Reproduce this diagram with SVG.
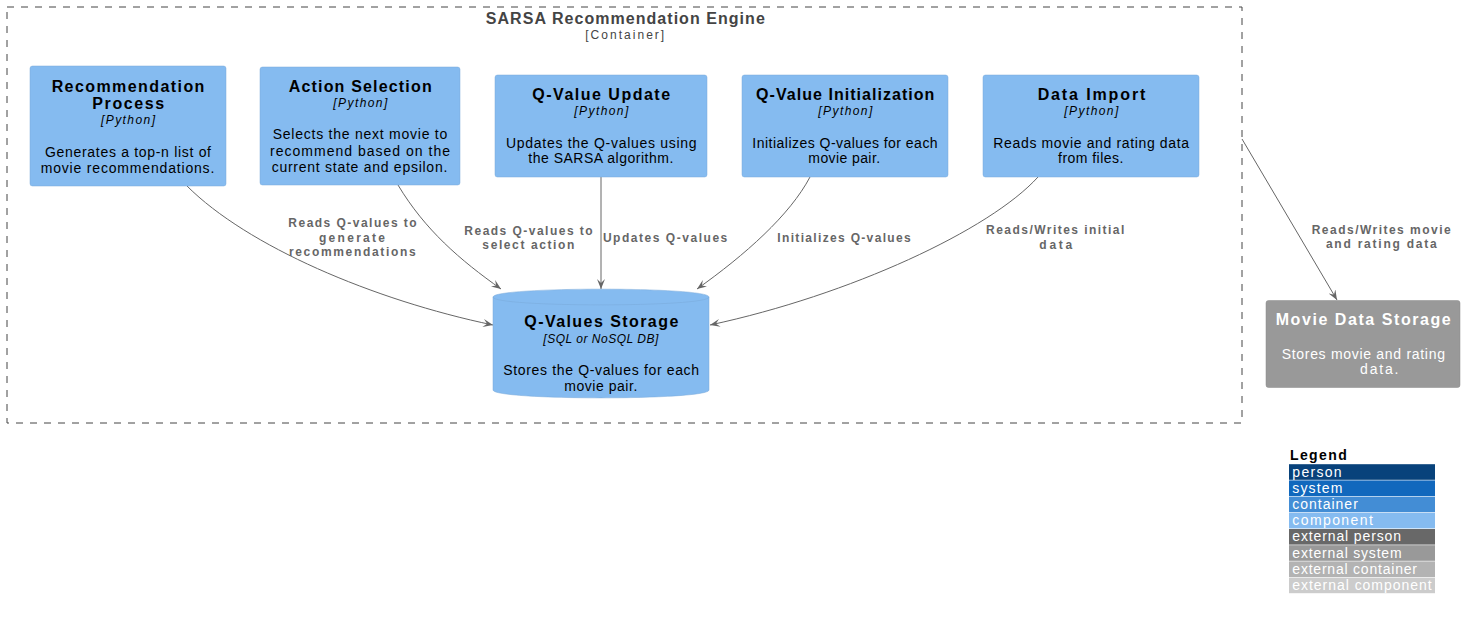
<svg xmlns="http://www.w3.org/2000/svg" width="1466" height="621" viewBox="0 0 1466 621">
<style>
text{font-family:"Liberation Sans",Arial,sans-serif}
.t{font-size:16px;font-weight:bold;fill:#000;text-anchor:middle}
.tw{font-size:16px;font-weight:bold;fill:#fff;text-anchor:middle}
.tech{font-size:12px;font-style:italic;fill:#000;text-anchor:middle}
.d{font-size:14px;fill:#000;text-anchor:middle}
.dw{font-size:14px;fill:#fff;text-anchor:middle}
.comp{fill:#85BBF0;stroke:#78A8D8;stroke-width:0.5}
.ext{fill:#999999;stroke:#8A8A8A;stroke-width:0.5}
.lbl{font-size:12px;font-weight:bold;fill:#666;text-anchor:middle}
.conn{fill:none;stroke:#666;stroke-width:1}
.bt{font-size:16px;font-weight:bold;fill:#444;text-anchor:middle}
.bs{font-size:12px;fill:#444;text-anchor:middle}
.lg{font-size:14px;fill:#fff}
</style>
<defs>
<marker id="arr" viewBox="0 0 10 8" refX="10" refY="4" markerWidth="10" markerHeight="8" markerUnits="userSpaceOnUse" orient="auto">
<path d="M0,0 L10,4 L0,8 L4,4 Z" fill="#666"/>
</marker>
</defs>

<g id="boundary">
<rect x="7" y="7" width="1235" height="416" fill="none" stroke="#444" stroke-width="1" stroke-dasharray="7,7"/>
<text class="bt" x="625.3" y="24" textLength="279" lengthAdjust="spacing">SARSA Recommendation Engine</text>
<text class="bs" x="624.7" y="39" textLength="79" lengthAdjust="spacing">[Container]</text>
</g>

<g id="connectors">
<path class="conn" marker-end="url(#arr)" d="M187,186 C247,246 373,300 493,325"/>
<path class="conn" marker-end="url(#arr)" d="M398,185 C425,230 460,260 501,289"/>
<path class="conn" marker-end="url(#arr)" d="M601,177 L601,289"/>
<path class="conn" marker-end="url(#arr)" d="M810,177 C790,215 745,255 697,289"/>
<path class="conn" marker-end="url(#arr)" d="M1038,177 C990,230 850,295 710,325"/>
<path class="conn" marker-end="url(#arr)" d="M1242,139 L1337,300"/>
<text class="lbl" x="352.5" y="227.3" textLength="128.3" lengthAdjust="spacing">Reads Q-values to</text>
<text class="lbl" x="352" y="241.5" textLength="66" lengthAdjust="spacing">generate</text>
<text class="lbl" x="352.3" y="255.7" textLength="126.7" lengthAdjust="spacing">recommendations</text>
<text class="lbl" x="528.5" y="234.5" textLength="128.3" lengthAdjust="spacing">Reads Q-values to</text>
<text class="lbl" x="528.3" y="248.7" textLength="91.9" lengthAdjust="spacing">select action</text>
<text class="lbl" x="665.1" y="241.7" textLength="124.4" lengthAdjust="spacing">Updates Q-values</text>
<text class="lbl" x="844" y="241.7" textLength="133.3" lengthAdjust="spacing">Initializes Q-values</text>
<text class="lbl" x="1055.2" y="234.4" textLength="138.2" lengthAdjust="spacing">Reads/Writes initial</text>
<text class="lbl" x="1055.8" y="248.6" textLength="33" lengthAdjust="spacing">data</text>
<text class="lbl" x="1381.2" y="234.2" textLength="139" lengthAdjust="spacing">Reads/Writes movie</text>
<text class="lbl" x="1381.3" y="248.4" textLength="110.8" lengthAdjust="spacing">and rating data</text>
</g>

<g id="recommendation-process">
<rect class="comp" x="30" y="66" width="196" height="120" rx="2.5"/>
<text class="t" x="128" y="91.7" textLength="152.7" lengthAdjust="spacing">Recommendation</text>
<text class="t" x="128.2" y="109.3" textLength="71.7" lengthAdjust="spacing">Process</text>
<text class="tech" x="128" y="124" textLength="54" lengthAdjust="spacing">[Python]</text>
<text class="d" x="128" y="157.3" textLength="166" lengthAdjust="spacing">Generates a top-n list of</text>
<text class="d" x="127.5" y="173.3" textLength="173.6" lengthAdjust="spacing">movie recommendations.</text>
</g>

<g id="action-selection">
<rect class="comp" x="260" y="67" width="200" height="118" rx="2.5"/>
<text class="t" x="360.2" y="92.3" textLength="143" lengthAdjust="spacing">Action Selection</text>
<text class="tech" x="360.3" y="107.3" textLength="54" lengthAdjust="spacing">[Python]</text>
<text class="d" x="360" y="139.3" textLength="174.6" lengthAdjust="spacing">Selects the next movie to</text>
<text class="d" x="360" y="155.7" textLength="180" lengthAdjust="spacing">recommend based on the</text>
<text class="d" x="359.5" y="171.7" textLength="175.6" lengthAdjust="spacing">current state and epsilon.</text>
</g>

<g id="q-value-update">
<rect class="comp" x="495" y="75" width="212" height="102" rx="2.5"/>
<text class="t" x="601.2" y="100" textLength="137.7" lengthAdjust="spacing">Q-Value Update</text>
<text class="tech" x="601.3" y="115.3" textLength="54" lengthAdjust="spacing">[Python]</text>
<text class="d" x="601.3" y="147.7" textLength="190.7" lengthAdjust="spacing">Updates the Q-values using</text>
<text class="d" x="600.8" y="163.3" textLength="145" lengthAdjust="spacing">the SARSA algorithm.</text>
</g>

<g id="q-value-initialization">
<rect class="comp" x="742" y="75" width="206" height="102" rx="2.5"/>
<text class="t" x="845.2" y="100" textLength="178.3" lengthAdjust="spacing">Q-Value Initialization</text>
<text class="tech" x="845.3" y="115.3" textLength="54" lengthAdjust="spacing">[Python]</text>
<text class="d" x="845" y="147.7" textLength="185.3" lengthAdjust="spacing">Initializes Q-values for each</text>
<text class="d" x="844.2" y="163.3" textLength="71.7" lengthAdjust="spacing">movie pair.</text>
</g>

<g id="data-import">
<rect class="comp" x="983" y="75" width="216" height="102" rx="2.5"/>
<text class="t" x="1091.5" y="100" textLength="107.7" lengthAdjust="spacing">Data Import</text>
<text class="tech" x="1091.3" y="115.3" textLength="54" lengthAdjust="spacing">[Python]</text>
<text class="d" x="1091.2" y="147.7" textLength="195.7" lengthAdjust="spacing">Reads movie and rating data</text>
<text class="d" x="1090.7" y="163.3" textLength="65.3" lengthAdjust="spacing">from files.</text>
</g>

<g id="q-values-storage">
<path class="comp" d="M493,297 C493,286.5 709,286.5 709,297 L709,390 C709,400.5 493,400.5 493,390 Z"/>
<path d="M493,297 C493,307.5 709,307.5 709,297" fill="none" stroke="#78A8D8" stroke-width="0.5"/>
<text class="t" x="601.3" y="327.3" textLength="154" lengthAdjust="spacing">Q-Values Storage</text>
<text class="tech" x="600.8" y="343.3" textLength="115" lengthAdjust="spacing">[SQL or NoSQL DB]</text>
<text class="d" x="601.2" y="375" textLength="195.7" lengthAdjust="spacing">Stores the Q-values for each</text>
<text class="d" x="600.8" y="390.7" textLength="73" lengthAdjust="spacing">movie pair.</text>
</g>

<g id="movie-data-storage">
<rect class="ext" x="1266" y="300.5" width="194" height="87" rx="2.5"/>
<text class="tw" x="1363.2" y="324.5" textLength="175" lengthAdjust="spacing">Movie Data Storage</text>
<text class="dw" x="1363.3" y="358.5" textLength="163.3" lengthAdjust="spacing">Stores movie and rating</text>
<text class="dw" x="1379.2" y="374.2" textLength="38.3" lengthAdjust="spacing" text-anchor="middle">data.</text>
</g>

<g id="legend">
<text x="1290" y="459.5" font-size="14" font-weight="bold" fill="#000" textLength="56.7" lengthAdjust="spacing">Legend</text>
<rect x="1289" y="464.2" width="146" height="15.6" fill="#08427B"/>
<rect x="1289" y="480.4" width="146" height="15.6" fill="#1168BD"/>
<rect x="1289" y="496.6" width="146" height="15.6" fill="#438DD5"/>
<rect x="1289" y="512.8" width="146" height="15.6" fill="#85BBF0"/>
<rect x="1289" y="529" width="146" height="15.6" fill="#686868"/>
<rect x="1289" y="545.2" width="146" height="15.6" fill="#999999"/>
<rect x="1289" y="561.4" width="146" height="15.6" fill="#B3B3B3"/>
<rect x="1289" y="577.6" width="146" height="15.6" fill="#CCCCCC"/>
<text class="lg" x="1292.3" y="476.5" textLength="49.3" lengthAdjust="spacing">person</text>
<text class="lg" x="1292.3" y="492.7" textLength="50" lengthAdjust="spacing">system</text>
<text class="lg" x="1292.3" y="508.9" textLength="65.5" lengthAdjust="spacing">container</text>
<text class="lg" x="1292.3" y="525.1" textLength="80.5" lengthAdjust="spacing">component</text>
<text class="lg" x="1292.3" y="541.3" textLength="108.7" lengthAdjust="spacing">external person</text>
<text class="lg" x="1292.3" y="557.5" textLength="109.3" lengthAdjust="spacing">external system</text>
<text class="lg" x="1292.3" y="573.7" textLength="124.7" lengthAdjust="spacing">external container</text>
<text class="lg" x="1292.3" y="589.9" textLength="139.3" lengthAdjust="spacing">external component</text>
</g>
</svg>
